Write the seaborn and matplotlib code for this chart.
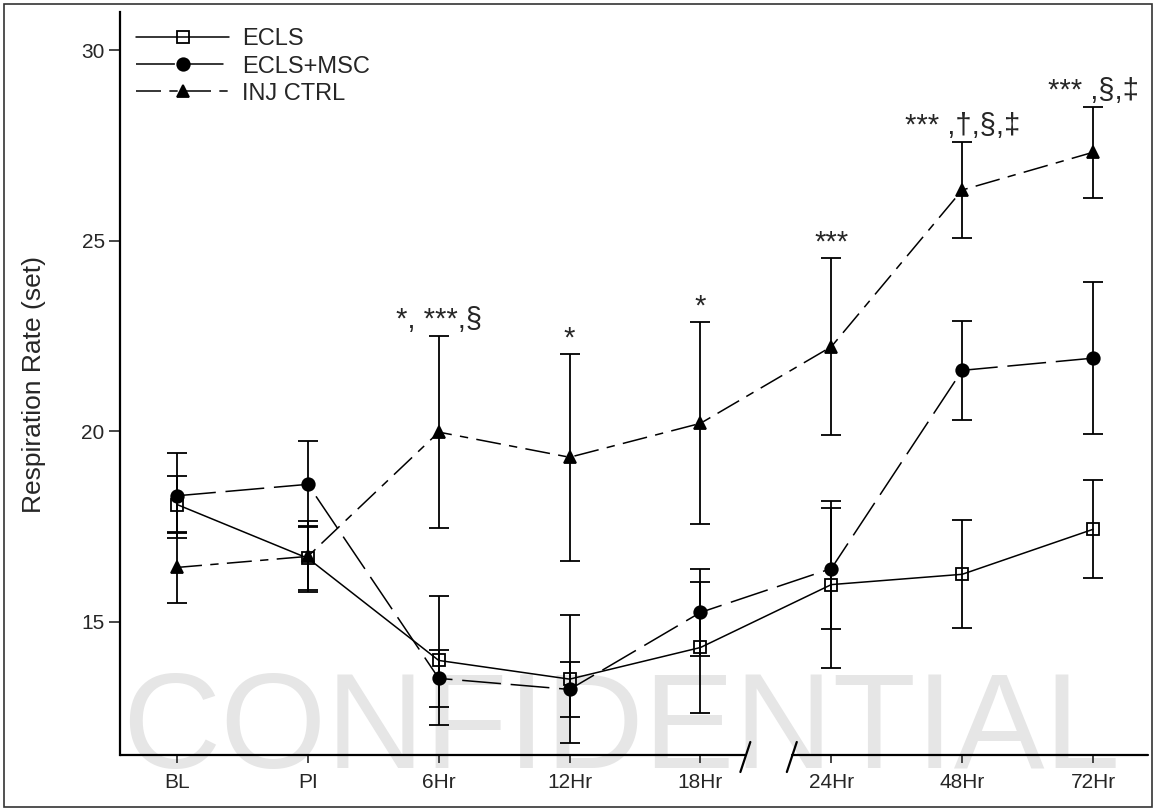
import numpy as np
import pandas as pd
import matplotlib
matplotlib.use("Agg")
import matplotlib.pyplot as plt
import seaborn as sns
from matplotlib.patches import Rectangle

# ---- data ----
times = ["BL", "PI", "6Hr", "12Hr", "18Hr", "24Hr", "48Hr", "72Hr"]

ecls_mean = [18.08, 16.67, 13.99, 13.50, 14.33, 15.98, 16.25, 17.43]
ecls_err = [0.74, 0.84, 1.70, 1.68, 1.73, 2.20, 1.42, 1.29]

msc_mean = [18.31, 18.61, 13.52, 13.23, 15.25, 16.40, 21.60, 21.92]
msc_err = [1.11, 1.13, 0.75, 0.72, 1.15, 1.58, 1.30, 2.00]

inj_mean = [16.43, 16.72, 19.98, 19.32, 20.21, 22.22, 26.33, 27.32]
inj_err = [0.92, 0.93, 2.52, 2.72, 2.65, 2.32, 1.26, 1.20]

sig_labels = ["", "", "*, ***,§", "*", "*", "***", "*** ,†,§,‡", "*** ,§,‡"]
sig_y = [None, None, 22.7, 22.23, 23.07, 24.75, 27.8, 28.71]

pos = np.arange(len(times))

df = pd.concat([
    pd.DataFrame({"pos": pos, "mean": ecls_mean, "err": ecls_err, "group": "ECLS"}),
    pd.DataFrame({"pos": pos, "mean": msc_mean, "err": msc_err, "group": "ECLS+MSC"}),
    pd.DataFrame({"pos": pos, "mean": inj_mean, "err": inj_err, "group": "INJ CTRL"}),
])

sns.set_style("white")
plt.rcParams["font.family"] = ["Liberation Sans", "DejaVu Sans"]
plt.rcParams["lines.scale_dashes"] = False

fig = plt.figure(figsize=(11.56, 8.10), dpi=100)
ax = fig.add_axes([120 / 1156, 1 - 755 / 810, 1028 / 1156, 743 / 810])
ax.patch.set_visible(False)

styles = {
    "ECLS": dict(marker="s", markerfacecolor="none", linestyle="-"),
    "ECLS+MSC": dict(marker="o", markerfacecolor="black", linestyle=(0, (28, 7))),
    "INJ CTRL": dict(marker="^", markerfacecolor="black", linestyle=(0, (18, 6, 6, 6))),
}

for name, sub in df.groupby("group", sort=False):
    ax.errorbar(sub["pos"], sub["mean"], yerr=sub["err"], fmt="none",
                ecolor="black", elinewidth=1.3, capsize=7, capthick=1.3, zorder=2)
    sns.lineplot(data=sub, x="pos", y="mean", ax=ax, color="black",
                 linewidth=1.1, markersize=9, markeredgecolor="black",
                 markeredgewidth=1.3, label=name, errorbar=None, zorder=3,
                 **styles[name])

# significance marks
for i, (lab, yy) in enumerate(zip(sig_labels, sig_y)):
    if lab:
        ax.text(pos[i], yy, lab, ha="center", va="baseline", fontsize=21)

# axes limits and ticks
ax.set_xlim(-0.436, 7.42)
ax.set_ylim(11.51, 31.0)
ax.set_yticks([15, 20, 25, 30])
ax.set_xticks(pos)
ax.set_xticklabels(times, fontsize=15)
ax.tick_params(axis="y", labelsize=15, length=8, width=1.2, pad=3, direction="out", left=True)
ax.tick_params(axis="x", length=6, width=1.2, pad=7, direction="out", bottom=True)
ax.set_xlabel("")
ax.set_ylabel("Respiration Rate (set)", fontsize=19)
ax.yaxis.set_label_coords(-0.072, 0.499)

for s in ["top", "right", "bottom"]:
    ax.spines[s].set_visible(False)
ax.spines["left"].set_linewidth(1.6)
ax.spines["left"].set_color("black")

# broken x axis
xt = ax.get_xaxis_transform()
ax.plot([-0.436, 4.343], [0, 0], color="black", lw=1.6, transform=xt, clip_on=False, zorder=4)
ax.plot([4.698, 7.42], [0, 0], color="black", lw=1.6, transform=xt, clip_on=False, zorder=4)
for c in [4.343, 4.698]:
    ax.plot([c + 0.038, c - 0.038], [0.0175, -0.0229], color="black", lw=1.6,
            transform=xt, clip_on=False, zorder=4)

# legend
handles, labels = ax.get_legend_handles_labels()
ax.legend(handles[:3], labels[:3], loc="upper left", bbox_to_anchor=(0.0156, 0.978),
          frameon=False, fontsize=17, handlelength=3.95, handletextpad=0.55,
          labelspacing=0.22, borderpad=0, borderaxespad=0)

# watermark behind everything
fig.text(122 / 1156, 1 - 768 / 810, "CONFIDENTIAL", fontsize=98, color="#e6e6e6",
         ha="left", va="baseline", zorder=-1)

# thin frame around the picture
fig.add_artist(Rectangle((4 / 1156, 3 / 810), 1148 / 1156, 803 / 810, transform=fig.transFigure,
                         fill=False, lw=1.2, ec="#333333"))

fig.savefig("out.png", dpi=100)
